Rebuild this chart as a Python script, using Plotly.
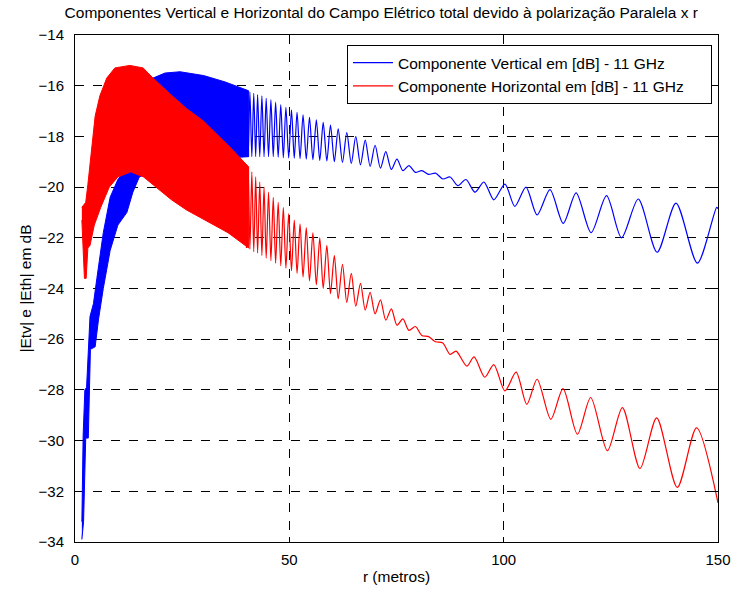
import plotly.graph_objects as go

# ---- Vertical component (blue): dense near-field band, as envelopes ----
v_band_up_r = [1.6, 1.9, 2.3, 2.7, 3.5, 4.3, 5.1, 5.8, 6.6, 8.2, 10.0, 12.0, 13.5, 15.5, 18.2, 21.0, 24.5, 30.0, 35.0, 40.5]
v_band_up = [-33.2, -29.8, -28.0, -27.9, -25.1, -24.6, -23.6, -22.8, -21.8, -20.4, -19.7, -19.3, -17.8, -16.5, -15.7, -15.5, -15.45, -15.6, -15.85, -16.2]
v_band_lo_r = [1.6, 2.0, 2.5, 3.1, 3.6, 4.7, 5.5, 6.6, 8.2, 10.0, 12.1, 13.5, 15.0, 20.0, 30.0, 40.5]
v_band_lo = [-33.9, -33.2, -29.9, -29.9, -26.4, -26.3, -25.2, -24.0, -22.5, -21.5, -21.0, -20.2, -19.6, -19.2, -18.9, -18.8]

# ---- Vertical component: individual maxima / minima further out ----
v_peak_r = [40.0, 40.8, 41.7, 42.6, 43.6, 44.6, 45.7, 46.8, 48.0, 49.2, 50.5, 51.8, 53.2, 54.7, 56.3, 57.9, 59.6, 61.4, 63.4, 65.5,
            67.7, 70.0, 72.5, 75.1, 77.9, 80.9, 84.1, 87.5, 91.2, 95.4, 100.3, 105.2, 110.8, 116.9, 124.0, 131.4, 140.2, 149.7]
v_peak = [-16.2, -16.25, -16.3, -16.35, -16.4, -16.5, -16.55, -16.65, -16.75, -16.85, -16.95, -17.05, -17.15, -17.25, -17.35, -17.45, -17.55, -17.7, -17.85, -18.0,
          -18.15, -18.35, -18.6, -18.9, -19.15, -19.35, -19.45, -19.6, -19.7, -19.8, -19.88, -20.0, -20.1, -20.23, -20.34, -20.47, -20.63, -20.8]
v_trough_r = [40.4, 41.25, 42.15, 43.1, 44.1, 45.15, 46.25, 47.4, 48.6, 49.85, 51.15, 52.5, 53.95, 55.5, 57.1, 58.75, 60.5, 62.4, 64.45, 66.6,
              68.85, 71.25, 73.8, 76.5, 79.4, 82.5, 85.8, 89.3, 93.3, 97.7, 102.6, 107.8, 113.9, 120.4, 127.5, 135.8, 145.2, 150.0]
v_trough = [-18.8, -18.8, -18.8, -18.8, -18.8, -18.8, -18.8, -18.82, -18.84, -18.85, -18.86, -18.88, -18.9, -18.92, -18.95, -18.97, -19.0, -19.03, -19.07, -19.12,
            -19.18, -19.25, -19.3, -19.35, -19.42, -19.5, -19.68, -19.94, -20.2, -20.5, -20.76, -21.1, -21.43, -21.8, -22.0, -22.57, -23.0, -20.85]

# ---- Horizontal component (red): dense near-field band ----
h_band_up_r = [1.6, 2.5, 3.0, 3.9, 4.7, 5.8, 7.4, 9.3, 12.8, 15.9, 18.2, 22.0, 26.0, 30.0, 33.0, 36.0, 40.5]
h_band_up = [-20.8, -20.6, -19.9, -18.6, -17.2, -16.4, -15.7, -15.3, -15.2, -15.3, -15.7, -16.3, -16.9, -17.4, -17.9, -18.4, -19.2]
h_band_lo_r = [1.6, 2.2, 2.6, 3.0, 3.5, 4.5, 6.0, 8.0, 10.0, 13.0, 16.0, 19.0, 22.5, 26.0, 30.3, 35.7, 40.5]
h_band_lo = [-21.3, -23.6, -23.6, -22.4, -22.3, -21.5, -20.8, -20.0, -19.6, -19.4, -19.6, -20.0, -20.5, -20.9, -21.3, -21.8, -22.4]

# ---- Horizontal component: individual maxima / minima ----
h_peak_r = [40.4, 41.25, 42.15, 43.1, 44.1, 45.15, 46.25, 47.4, 48.6, 49.85, 51.15, 52.5, 53.95, 55.5, 57.1, 58.75, 60.5, 62.4, 64.45, 66.6,
            68.85, 71.25, 73.8, 76.5, 79.4, 82.5, 85.8, 88.9, 93.1, 97.7, 102.9, 107.8, 113.85, 120.3, 127.7, 135.7, 145.0]
h_peak = [-19.2, -19.4, -19.6, -19.8, -20.0, -20.2, -20.4, -20.6, -20.8, -21.05, -21.3, -21.45, -21.6, -21.8, -22.0, -22.3, -22.7, -23.05, -23.4, -23.8,
          -24.15, -24.45, -24.8, -25.2, -25.5, -25.9, -26.15, -26.47, -26.7, -27.0, -27.3, -27.58, -27.95, -28.3, -28.7, -29.1, -29.5]
h_trough_r = [40.0, 40.8, 41.7, 42.6, 43.6, 44.6, 45.7, 46.8, 48.0, 49.2, 50.5, 51.8, 53.2, 54.7, 56.3, 57.9, 59.6, 61.4, 63.4, 65.5,
              67.7, 70.0, 72.5, 75.1, 77.9, 80.9, 84.1, 87.5, 91.4, 95.6, 100.3, 105.4, 111.0, 117.2, 124.2, 131.8, 140.5, 150.0]
h_trough = [-22.4, -22.45, -22.55, -22.6, -22.7, -22.8, -22.9, -23.0, -23.1, -23.2, -23.3, -23.4, -23.55, -23.7, -23.85, -24.0, -24.2, -24.4, -24.55, -24.7,
            -24.85, -25.0, -25.25, -25.45, -25.65, -25.85, -26.1, -26.6, -27.06, -27.5, -28.04, -28.57, -29.16, -29.75, -30.4, -31.1, -31.85, -32.46]

x_ticks = [0, 50, 100, 150]
y_ticks = list(range(-34, -13, 2))

BLUE = "#0000FF"
RED = "#FF0000"
FONT = "Liberation Sans, Arial, sans-serif"
PAD = "\u00a0" * 5  # a little room after the longest legend entry


def band_polygon(up_r, up, lo_r, lo):
    return up_r + lo_r[::-1], up + lo[::-1]


def merge_extrema(ra, va, rb, vb):
    pts = sorted(zip(ra + rb, va + vb))
    return [p[0] for p in pts], [p[1] for p in pts]


fig = go.Figure()

for (up_r, up, lo_r, lo, pk_r, pk, tr_r, tr, color, name) in [
    (v_band_up_r, v_band_up, v_band_lo_r, v_band_lo, v_peak_r, v_peak, v_trough_r, v_trough, BLUE,
     "Componente Vertical em [dB] - 11 GHz"),
    (h_band_up_r, h_band_up, h_band_lo_r, h_band_lo, h_peak_r, h_peak, h_trough_r, h_trough, RED,
     "Componente Horizontal em [dB] - 11 GHz" + PAD),
]:
    bx, by = band_polygon(up_r, up, lo_r, lo)
    fig.add_trace(go.Scatter(x=bx, y=by, mode="lines", fill="toself", fillcolor=color,
                             line=dict(color=color, width=1), showlegend=False, hoverinfo="skip"))
    wx, wy = merge_extrema(pk_r, pk, tr_r, tr)
    fig.add_trace(go.Scatter(x=wx, y=wy, mode="lines", name=name,
                             line=dict(color=color, width=1.2, shape="spline", smoothing=0.8)))

axis_common = dict(
    showline=True, linecolor="black", linewidth=1, mirror="ticks",
    ticks="inside", ticklen=5, tickcolor="black",
    showgrid=True, gridcolor="black", griddash="dash", gridwidth=1,
    zeroline=False, automargin=False,
    tickfont=dict(family=FONT, size=15, color="black"),
)

fig.update_layout(
    width=736, height=594,
    margin=dict(l=75, r=18, t=35, b=52),
    paper_bgcolor="white", plot_bgcolor="white",
    font=dict(family=FONT, color="black"),
    title=dict(text="Componentes Vertical e Horizontal do Campo Elétrico total devido à polarização Paralela x r",
               x=0.518, xanchor="center", y=0.978, yanchor="middle", yref="container",
               font=dict(size=15.5, color="black")),
    xaxis=dict(range=[0, 150], tickvals=x_ticks, ticklabelstandoff=4,
               title=dict(text="r (metros)", font=dict(size=15.5), standoff=4), **axis_common),
    yaxis=dict(range=[-34, -14], tickvals=y_ticks, ticklabelstandoff=7,
               title=dict(text="|Etv| e |Eth| em dB", font=dict(size=15.5), standoff=3), **axis_common),
    legend=dict(x=0.423, y=0.98, xanchor="left", yanchor="top",
                bgcolor="white", bordercolor="black", borderwidth=1,
                font=dict(size=15.5, color="black"), tracegroupgap=0, itemwidth=40),
    showlegend=True,
)

fig.write_html("out.html")
